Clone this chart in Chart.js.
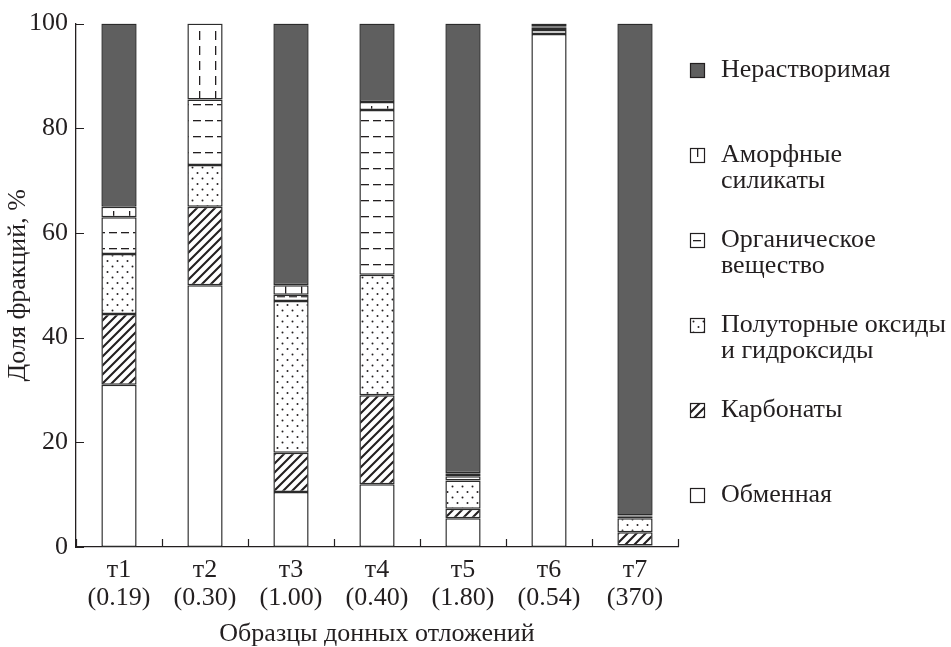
<!DOCTYPE html>
<html lang="ru">
<head>
<meta charset="utf-8">
<title>Доля фракций в образцах донных отложений</title>
<script src="https://cdn.jsdelivr.net/npm/chart.js@4/dist/chart.umd.min.js"></script>
<style>
  html, body { margin: 0; padding: 0; background: #ffffff; }
  #wrap { width: 951px; height: 647px; }
</style>
</head>
<body>
<div id="wrap"><canvas id="chart" width="951" height="647"></canvas></div>
<script>
// Sample names and the bracketed value printed under each one
const sampleNames  = ['т1', 'т2', 'т3', 'т4', 'т5', 'т6', 'т7'];
const sampleNotes  = ['(0.19)', '(0.30)', '(1.00)', '(0.40)', '(1.80)', '(0.54)', '(370)'];

// Fraction shares, %, stacked from the bottom up
const exchangeable = [31.0, 50.0, 10.5, 12.0,  5.5, 98.0,  0.3];
const carbonates   = [13.5, 15.0,  7.5, 17.0,  1.8,  0.0,  2.5];
const oxides       = [11.5,  8.0, 29.0, 23.0,  5.4,  0.8,  2.7];
const organic      = [ 7.0, 12.5,  1.2, 31.5,  0.8,  0.4,  0.3];
const amorphous    = [ 2.0, 14.5,  1.8,  1.5,  0.6,  0.3,  0.2];
const insoluble    = [35.0,  0.0, 50.0, 15.0, 85.9,  0.5, 94.0];

const yTicks = [0, 20, 40, 60, 80, 100];

const INK = '#231f20';
const DARK = '#5f5f5f';
const SERIF = '"Liberation Serif", "DejaVu Serif", "Times New Roman", serif';

// ---- fill patterns ----
function makeTileCanvas(w, h, paint) {
  const c = document.createElement('canvas');
  c.width = w; c.height = h;
  const g = c.getContext('2d');
  g.fillStyle = '#ffffff';
  g.fillRect(0, 0, w, h);
  paint(g, w, h);
  return c;
}
function toPattern(tile, dx, dy) {
  const p = tile.getContext('2d').createPattern(tile, 'repeat');
  if (dx || dy) p.setTransform(new DOMMatrix().translate(dx || 0, dy || 0));
  return p;
}

const hatchTile = makeTileCanvas(9, 9, (g, w, h) => {
  g.strokeStyle = INK; g.lineWidth = 2.1; g.lineCap = 'square';
  g.beginPath();
  g.moveTo(-1, h + 1); g.lineTo(w + 1, -1);
  g.moveTo(-2, 2); g.lineTo(2, -2);
  g.moveTo(w - 2, h + 2); g.lineTo(w + 2, h - 2);
  g.stroke();
});

const dotTile = makeTileCanvas(10, 11, (g) => {
  g.fillStyle = INK;
  g.beginPath(); g.arc(2.5, 2.5, 1.0, 0, Math.PI * 2); g.fill();
  g.beginPath(); g.arc(7.5, 8, 1.0, 0, Math.PI * 2); g.fill();
});

// horizontal dashes, one row every 16 px
const hDashTile = makeTileCanvas(12, 16, (g) => {
  g.fillStyle = INK;
  g.fillRect(1, 8, 8, 1.3);
});

// vertical dashes: two dashed lines inside every bar
const vDashTile = makeTileCanvas(16, 15, (g) => {
  g.fillStyle = INK;
  g.fillRect(0, 1, 1.3, 9);
});
function vDashFill(c) {
  const xs = c.chart && c.chart.scales ? c.chart.scales.x : null;
  if (xs && typeof c.dataIndex === 'number') {
    const cx = xs.getPixelForValue(c.dataIndex);
    return toPattern(vDashTile, Math.round(cx - 6), 0);
  }
  return toPattern(vDashTile);
}

const series = [
  { label: 'Обменная',                       data: exchangeable, fill: '#ffffff',             icon: () => '#ffffff' },
  { label: 'Карбонаты',                      data: carbonates,   fill: toPattern(hatchTile),  icon: (x, y) => toPattern(hatchTile, x, y + 1) },
  { label: 'Полуторные оксиды|и гидроксиды', data: oxides,       fill: toPattern(dotTile),    icon: (x, y) => toPattern(dotTile, x + 1, y + 1) },
  { label: 'Органическое|вещество',          data: organic,      fill: toPattern(hDashTile),  icon: (x, y) => toPattern(hDashTile, x + 2, y - 1) },
  { label: 'Аморфные|силикаты',              data: amorphous,    fill: vDashFill,             icon: (x, y) => toPattern(vDashTile, x + 7, y - 1) },
  { label: 'Нерастворимая',                  data: insoluble,    fill: DARK,                  icon: () => DARK }
];

// Inward tick marks on both axes
const innerTicks = {
  id: 'innerTicks',
  afterDraw(chart) {
    const { ctx, scales: { x, y }, chartArea: a } = chart;
    ctx.save();
    ctx.strokeStyle = INK;
    ctx.lineWidth = 1.2;
    ctx.beginPath();
    yTicks.forEach(v => {
      const py = Math.round(y.getPixelForValue(v)) + 0.5;
      ctx.moveTo(a.left, py); ctx.lineTo(a.left + 8, py);
    });
    for (let i = 0; i <= sampleNames.length; i++) {
      const px = Math.round(x.getPixelForValue(i - 0.5)) + 0.5;
      ctx.moveTo(px, a.bottom); ctx.lineTo(px, a.bottom - 8);
    }
    ctx.stroke();
    ctx.restore();
  }
};

// Legend on the right, top entry = top of the stack
const LEGEND_X = 690, LEGEND_TEXT_X = 721, LEGEND_TOP = 70, LEGEND_STEP = 85, ICON = 15;
const sideLegend = {
  id: 'sideLegend',
  afterDraw(chart) {
    const { ctx } = chart;
    ctx.save();
    ctx.font = '26px ' + SERIF;
    ctx.textBaseline = 'middle';
    ctx.textAlign = 'left';
    series.slice().reverse().forEach((s, row) => {
      const cy = LEGEND_TOP + row * LEGEND_STEP;
      const by = Math.round(cy - ICON / 2);
      ctx.fillStyle = s.icon(LEGEND_X, by);
      ctx.fillRect(LEGEND_X, by, ICON, ICON);
      ctx.strokeStyle = INK;
      ctx.lineWidth = 1.2;
      ctx.strokeRect(LEGEND_X + 0.5, by + 0.5, ICON - 1, ICON - 1);
      ctx.fillStyle = INK;
      s.label.split('|').forEach((line, k) => {
        ctx.fillText(line, LEGEND_TEXT_X, cy + k * 26);
      });
    });
    ctx.restore();
  }
};

Chart.defaults.font.family = SERIF;
Chart.defaults.font.size = 26;
Chart.defaults.color = INK;

new Chart(document.getElementById('chart'), {
  type: 'bar',
  data: {
    labels: sampleNames.map((n, i) => [n, sampleNotes[i]]),
    datasets: series.map(s => ({
      label: s.label.replace('|', ' '),
      data: s.data,
      backgroundColor: s.fill,
      borderColor: '#2b2b2b',
      borderWidth: 1.5,
      borderSkipped: false,
      categoryPercentage: 1.0,
      barPercentage: 0.41
    }))
  },
  options: {
    responsive: false,
    animation: false,
    devicePixelRatio: 1,
    layout: { padding: { left: 0, right: 273, top: 16, bottom: 0 } },
    plugins: {
      legend: { display: false },
      tooltip: { enabled: false }
    },
    scales: {
      x: {
        stacked: true,
        grid: { display: false, drawTicks: false },
        border: { display: true, color: INK, width: 1.3 },
        ticks: { padding: 9, maxRotation: 0, autoSkip: false, font: { size: 26, lineHeight: 1.08 } },
        title: {
          display: true,
          text: 'Образцы донных отложений',
          font: { size: 26, lineHeight: 1 },
          padding: { top: 4, bottom: 0 }
        },
        afterFit(scale) { scale.height = 100; }
      },
      y: {
        stacked: true,
        min: 0,
        max: 100,
        grid: { display: false, drawTicks: false },
        border: { display: true, color: INK, width: 1.3 },
        ticks: { stepSize: 20, padding: 8, font: { size: 26 } },
        title: {
          display: true,
          text: 'Доля фракций, %',
          font: { size: 26, lineHeight: 1 },
          padding: { top: 5, bottom: 0 }
        },
        afterFit(scale) { scale.width = 76; }
      }
    }
  },
  plugins: [innerTicks, sideLegend]
});
</script>
</body>
</html>
